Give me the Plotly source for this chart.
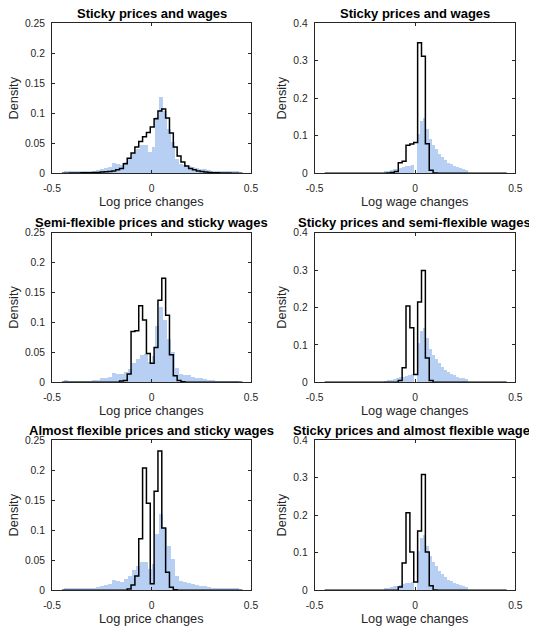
from __future__ import annotations

import numpy as np
import plotly.graph_objects as go

# ---------------------------------------------------------------------------
# data (probability per bin)
# ---------------------------------------------------------------------------

# empirical distributions (light blue bars) - same in every row
PRICE_DATA_EDGE0 = -0.44
PRICE_DATA_WIDTH = 0.02
price_data = [
    0.004, 0.003, 0.002, 0.002, 0.002, 0.002, 0.003, 0.004, 0.005, 0.007, 0.008,
    0.010, 0.016, 0.015, 0.014, 0.018, 0.023, 0.033, 0.040, 0.046, 0.047, 0.035,
    0.044, 0.094, 0.127, 0.104, 0.073, 0.051, 0.024, 0.015, 0.013, 0.012, 0.010,
    0.008, 0.007, 0.006, 0.005, 0.004, 0.003, 0.003, 0.003, 0.003, 0.003, 0.002,
]

WAGE_DATA_EDGE0 = -0.155
WAGE_DATA_WIDTH = 0.015
wage_data = [
    0.004, 0.006, 0.008, 0.010, 0.012, 0.014, 0.016, 0.018, 0.020, 0.022,
    0.000, 0.105, 0.138, 0.147, 0.118, 0.090, 0.075, 0.064, 0.052, 0.042,
    0.034, 0.028, 0.023, 0.019, 0.016, 0.013, 0.011, 0.009,
]

# model distributions (black stairs) - common bins
MODEL_EDGE0 = -0.4501
MODEL_WIDTH = 0.0193

model_sticky_p = [
    0, 0, 0.0005, 0.0005, 0.0005, 0.001, 0.001, 0.001, 0.0015, 0.0015, 0.002,
    0.0025, 0.003, 0.004, 0.006, 0.008, 0.016,
    0.025, 0.034, 0.044, 0.053, 0.061, 0.068, 0.077, 0.091, 0.104, 0.107,
    0.092, 0.067, 0.044, 0.029, 0.019, 0.012, 0.008, 0.006, 0.004, 0.003,
    0.002, 0.0015, 0.001, 0.001, 0.0005, 0.0005, 0.0005, 0, 0, 0,
]
model_sticky_w = [
    0, 0, 0, 0, 0, 0, 0, 0, 0, 0, 0, 0, 0, 0, 0, 0, 0.001,
    0.002, 0.005, 0.028, 0.032, 0.075, 0.078, 0.082, 0.348, 0.312, 0.079,
    0.008, 0.001, 0, 0, 0, 0, 0, 0, 0, 0,
    0, 0, 0, 0, 0, 0, 0, 0, 0, 0,
]
model_semiflex_p = [
    0, 0, 0, 0, 0, 0, 0, 0, 0, 0, 0, 0, 0, 0, 0, 0.002, 0.003,
    0.014, 0.085, 0.086, 0.128, 0.104, 0.048, 0.032, 0.058, 0.137, 0.174,
    0.112, 0.046, 0.011, 0.003, 0.001, 0, 0, 0, 0, 0,
    0, 0, 0, 0, 0, 0, 0, 0, 0, 0,
]
model_semiflex_w = [
    0, 0, 0, 0, 0, 0, 0, 0, 0, 0, 0, 0, 0, 0, 0, 0, 0,
    0, 0, 0.005, 0.039, 0.204, 0.146, 0.021, 0.215, 0.299, 0.065,
    0.005, 0, 0, 0, 0, 0, 0, 0, 0, 0,
    0, 0, 0, 0, 0, 0, 0, 0, 0, 0,
]
model_flex_p = [
    0, 0, 0, 0, 0, 0, 0, 0, 0, 0, 0, 0, 0, 0, 0, 0, 0,
    0.002, 0.009, 0.024, 0.086, 0.204, 0.145, 0.011, 0.165, 0.232, 0.104,
    0.030, 0.005, 0.001, 0, 0, 0, 0, 0, 0, 0,
    0, 0, 0, 0, 0, 0, 0, 0, 0, 0,
]
model_flex_w = [
    0, 0, 0, 0, 0, 0, 0, 0, 0, 0, 0, 0, 0, 0, 0, 0, 0,
    0, 0, 0.009, 0.073, 0.207, 0.102, 0.022, 0.158, 0.309, 0.102,
    0.012, 0.001, 0, 0, 0, 0, 0, 0, 0, 0,
    0, 0, 0, 0, 0, 0, 0, 0, 0, 0,
]

titles = [
    "Sticky prices and wages",
    "Sticky prices and wages",
    "Semi-flexible prices and sticky wages",
    "Sticky prices and semi-flexible wages",
    "Almost flexible prices and sticky wages",
    "Sticky prices and almost flexible wages",
]
x_labels = ["Log price changes", "Log wage changes"]
x_ticks = [-0.5, 0, 0.5]
x_tick_text = ["-0.5", "0", "0.5"]
price_y_ticks = [0, 0.05, 0.1, 0.15, 0.2, 0.25]
price_y_text = ["0", "0.05", "0.1", "0.15", "0.2", "0.25"]
wage_y_ticks = [0, 0.1, 0.2, 0.3, 0.4]
wage_y_text = ["0", "0.1", "0.2", "0.3", "0.4"]

# ---------------------------------------------------------------------------

WINDOW_W, WINDOW_H = 537, 627
PAGE_PAD = 8  # default <body> margin of the html page
W, H = WINDOW_W - PAGE_PAD, WINDOW_H - PAGE_PAD
FONT = "Liberation Sans, Arial, Helvetica, sans-serif"
AXIS_COLOR = "#262626"
BLUE = "#b6cff2"

# axes boxes in window pixels
COL_PX = [(52.0, 251.0), (314.7, 515.3)]
ROW_PX = [(23.3, 173.3), (232.7, 382.3), (440.3, 590.3)]
YLABEL_SHIFT = [-38.7, -33.4]


def bin_edges(start: float, width: float, n: int) -> np.ndarray:
    return start + width * np.arange(n + 1)


def bars(edges: np.ndarray, heights: list[float], ax: int) -> go.Bar:
    centers = (edges[:-1] + edges[1:]) / 2
    return go.Bar(
        x=centers,
        y=heights,
        width=np.diff(edges),
        marker=dict(color=BLUE, line=dict(width=0)),
        xaxis=f"x{ax}",
        yaxis=f"y{ax}",
        showlegend=False,
        hoverinfo="skip",
    )


def stairs(edges: np.ndarray, heights: list[float], ax: int) -> go.Scatter:
    xs = np.concatenate([[edges[0]], edges[:-1], [edges[-1]]])
    ys = [0.0] + list(heights) + [0.0]
    return go.Scatter(
        x=xs,
        y=ys,
        mode="lines",
        line=dict(color="black", width=1.5, shape="hv"),
        xaxis=f"x{ax}",
        yaxis=f"y{ax}",
        showlegend=False,
        hoverinfo="skip",
    )


price_edges = bin_edges(PRICE_DATA_EDGE0, PRICE_DATA_WIDTH, len(price_data))
wage_edges = bin_edges(WAGE_DATA_EDGE0, WAGE_DATA_WIDTH, len(wage_data))
model_edges = bin_edges(MODEL_EDGE0, MODEL_WIDTH, len(model_sticky_p))

models = [
    model_sticky_p, model_sticky_w,
    model_semiflex_p, model_semiflex_w,
    model_flex_p, model_flex_w,
]

fig = go.Figure()
layout = dict(
    width=W,
    height=H,
    margin=dict(l=0, r=0, t=0, b=0, autoexpand=False),
    paper_bgcolor="white",
    plot_bgcolor="white",
    barmode="overlay",
    bargap=0,
    font=dict(family=FONT, color=AXIS_COLOR, size=10.3),
    annotations=[],
)

for k in range(6):
    row, col = divmod(k, 2)
    ax = k + 1
    is_price = col == 0
    if is_price:
        fig.add_trace(bars(price_edges, price_data, ax))
    else:
        fig.add_trace(bars(wage_edges, wage_data, ax))
    fig.add_trace(stairs(model_edges, models[k], ax))

    x0, x1 = COL_PX[col]
    top, bottom = ROW_PX[row]
    xdom = [(x0 - PAGE_PAD) / W, (x1 - PAGE_PAD) / W]
    ydom = [1 - (bottom - PAGE_PAD) / H, 1 - (top - PAGE_PAD) / H]
    common = dict(
        showline=True,
        linecolor=AXIS_COLOR,
        linewidth=1,
        mirror="ticks",
        ticks="inside",
        ticklen=3,
        tickwidth=1,
        tickcolor=AXIS_COLOR,
        showgrid=False,
        zeroline=False,
        automargin=False,
        tickfont=dict(family=FONT, size=10.3, color=AXIS_COLOR),
        fixedrange=True,
    )
    layout[f"xaxis{ax}"] = dict(
        common,
        domain=xdom,
        range=[-0.5, 0.5],
        tickvals=x_ticks,
        ticktext=x_tick_text,
        anchor=f"y{ax}",
        ticklabelstandoff=5,
    )
    layout[f"yaxis{ax}"] = dict(
        common,
        domain=ydom,
        range=[0, 0.25] if is_price else [0, 0.4],
        tickvals=price_y_ticks if is_price else wage_y_ticks,
        ticktext=price_y_text if is_price else wage_y_text,
        anchor=f"x{ax}",
        ticklabelstandoff=4,
    )

    xc = (xdom[0] + xdom[1]) / 2
    yc = (ydom[0] + ydom[1]) / 2
    layout["annotations"] += [
        dict(
            text=f"<b>{titles[k]}</b>",
            x=xc, y=ydom[1], xref="paper", yref="paper",
            xanchor="center", yanchor="middle", yshift=10,
            showarrow=False,
            font=dict(family=FONT, size=13, color="black"),
        ),
        dict(
            text=x_labels[col],
            x=xc, y=ydom[0], xref="paper", yref="paper",
            xanchor="center", yanchor="middle", yshift=-28,
            showarrow=False,
            font=dict(family=FONT, size=12.8, color=AXIS_COLOR),
        ),
        dict(
            text="Density",
            x=xdom[0], y=yc, xref="paper", yref="paper",
            xanchor="center", yanchor="middle", xshift=YLABEL_SHIFT[col],
            textangle=-90,
            showarrow=False,
            font=dict(family=FONT, size=12.8, color=AXIS_COLOR),
        ),
    ]

fig.update_layout(**layout)
fig.write_html("out.html")
